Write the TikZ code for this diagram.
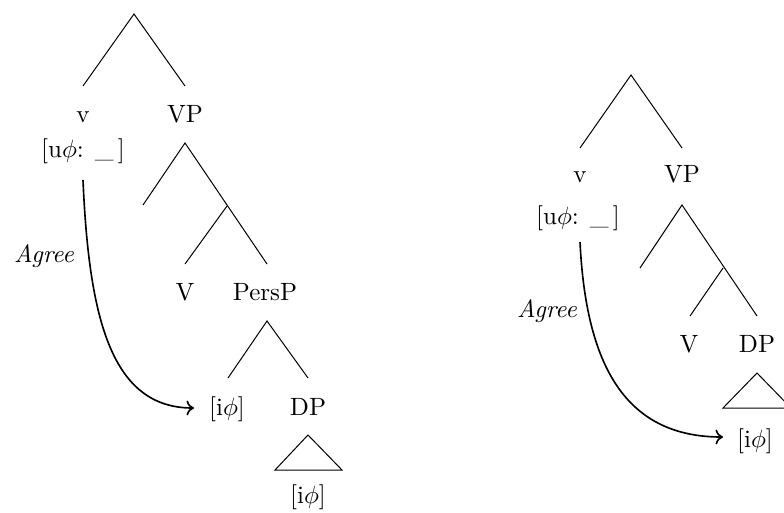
\documentclass[tikz,border=0pt]{standalone}
\usetikzlibrary{arrows.meta}
\begin{document}
\begin{tikzpicture}[x=0.4pt,y=-0.4pt,
  lbl/.style={anchor=base,inner sep=0pt,font=\fontsize{10}{12}\selectfont},
  br/.style={line width=0.4pt},
  agr/.style={line width=0.65pt,-{To[length=3pt,width=6pt]}}]
\useasboundingbox (0,0) rectangle (784,512);
% ---------- left tree ----------
\coordinate (L0) at (134,14);
\coordinate (L0a) at (83,86);
\coordinate (L0b) at (185,86);
\node[lbl] (Lv) at (83,123) {v};
\node[lbl] (LVP) at (185,123) {VP};
\node[lbl] (Lu) at (83,158) {[u$\phi$: \_\,]};
\coordinate (L1) at (185,143);
\coordinate (L1a) at (143,205);
\coordinate (L1b) at (267,264);
\coordinate (L2) at (227,206);
\coordinate (L2a) at (185,264);
\node[lbl] (LV) at (185,300) {V};
\node[lbl] (LPers) at (265,300) {PersP};
\coordinate (L3) at (267,321);
\coordinate (L3a) at (228,378);
\coordinate (L3b) at (308,378);
\node[lbl] (Li) at (227,415) {[i$\phi$]};
\node[lbl] (LDP) at (308,415) {DP};
\coordinate (LT) at (308,435);
\coordinate (LTa) at (275,470);
\coordinate (LTb) at (342,470);
\node[lbl] (Li2) at (308,503) {[i$\phi$]};
\draw[br] (L0a) -- (L0) -- (L0b);
\draw[br] (L1a) -- (L1) -- (L1b);
\draw[br] (L2) -- (L2a);
\draw[br] (L3a) -- (L3) -- (L3b);
\draw[br] (LT) -- (LTa) -- (LTb) -- cycle;
\coordinate (LAs) at (83,180);
\coordinate (LAe) at (194,408);
\draw[agr] (LAs) .. controls (89,320) and (112,408) .. (LAe);
\node[lbl,font=\fontsize{10}{12}\selectfont\itshape] (LAg) at (44,262) {Agree};
% ---------- right tree ----------
\coordinate (R0) at (631,75);
\coordinate (R0a) at (580,148);
\coordinate (R0b) at (682,148);
\node[lbl] (Rv) at (580,183) {v};
\node[lbl] (RVP) at (682,183) {VP};
\node[lbl] (Ru) at (578,224) {[u$\phi$: \_\,]};
\coordinate (R1) at (682,205);
\coordinate (R1a) at (640,268);
\coordinate (R1b) at (757,316);
\coordinate (R2) at (723,268);
\coordinate (R2a) at (690,316);
\node[lbl] (RV) at (689,352) {V};
\node[lbl] (RDP) at (757,352) {DP};
\coordinate (RT) at (757,373);
\coordinate (RTa) at (723,408);
\coordinate (RTb) at (791,408);
\node[lbl] (Ri) at (755,447) {[i$\phi$]};
\draw[br] (R0a) -- (R0) -- (R0b);
\draw[br] (R1a) -- (R1) -- (R1b);
\draw[br] (R2) -- (R2a);
\draw[br] (RT) -- (RTa) -- (RTb) -- cycle;
\coordinate (RAs) at (580,242);
\coordinate (RAe) at (723,437);
\draw[agr] (RAs) .. controls (586,365) and (625,437) .. (RAe);
\node[lbl,font=\fontsize{10}{12}\selectfont\itshape] (RAg) at (547,317) {Agree};
\end{tikzpicture}
\end{document}
